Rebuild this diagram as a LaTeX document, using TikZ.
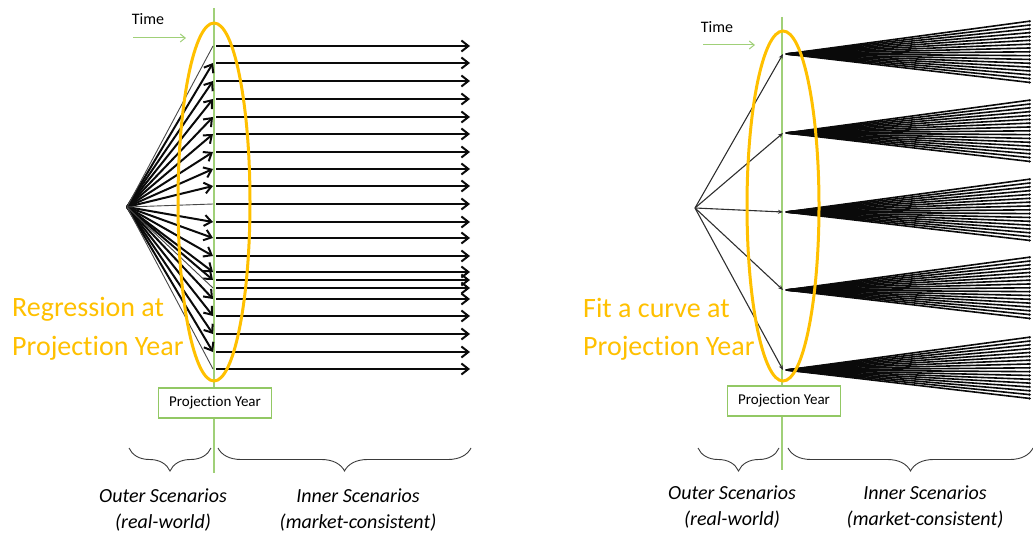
\documentclass[tikz,border=0pt]{standalone}
\usepackage{fontspec}
\setmainfont{Carlito}[Ligatures=NoCommon]
\usetikzlibrary{arrows.meta,decorations.pathreplacing}

\definecolor{axisgreen}{RGB}{160,208,120}
\definecolor{boxgreen}{RGB}{146,200,100}
\definecolor{gold}{RGB}{255,192,0}
\definecolor{ink}{RGB}{10,10,10}

\tikzset{
  greenline/.style={draw=axisgreen, line width=1.8pt},
  timearrow/.style={draw=axisgreen, line width=1pt, -{Straight Barb[length=5pt,width=8pt]}},
  timetxt/.style={font=\fontsize{16}{18}\selectfont, inner sep=0pt},
  harrow/.style={draw=ink, line width=2pt, -{Straight Barb[length=7pt,width=11pt,line width=2pt]}},
  fanhead/.style={draw=ink, line width=2pt, -{Straight Barb[length=7pt,width=11pt,line width=2pt]}},
  fanthin/.style={draw=ink!75, line width=0.9pt},
  outerline/.style={draw=ink!85, line width=1.1pt, -{Stealth[length=5pt,width=4pt]}},
  innerline/.style={draw=ink, line width=1.6pt, -{Stealth[length=2pt,width=3pt]}},
  oval/.style={draw=gold, line width=3pt},
  ybox/.style={draw=boxgreen, line width=1.8pt, fill=white, font=\fontsize{15}{17}\selectfont,
    minimum width=113pt, minimum height=30pt, inner sep=0pt},
  goldtxt/.style={text=gold, font=\fontsize{28}{34}\selectfont, inner sep=0pt, anchor=base west},
  bracedraw/.style={draw=ink!80, line width=0.9pt, decorate,
    decoration={brace, amplitude=23pt, aspect=0.5}},
  lbl/.style={font=\fontsize{20}{26}\selectfont\itshape, align=center, inner sep=0pt}
}

\begin{document}
\begin{tikzpicture}[x=1pt,y=-1pt]
\useasboundingbox (0,0) rectangle (1033,540);

% ---------------- left panel: regression ----------------
\coordinate (LT) at (214,8);
\coordinate (LB) at (214,473);
\draw[greenline] (LT) -- (LB);

\node[timetxt] (ltime) at (148,19) {Time};
\coordinate (lta) at (133,38);
\coordinate (ltb) at (186,38);
\draw[timearrow] (lta) -- (ltb);

\coordinate (LO) at (127,207);
\foreach \y [count=\i] in {46,63,81,99,117,134,152,169,186,204,222,238,256,272,280,288,299,316,334,352,369} {
  \coordinate (L\i) at (213,\y);
  \coordinate (S\i) at (216,\y);
  \coordinate (R\i) at (470,\y);
  \draw[harrow] (S\i) -- (R\i);
}
\foreach \i in {2,3,4,5,6,7,8,9,11,12,13,14,15,17,18,19,20}
  \draw[fanhead] (LO) -- (L\i);
\foreach \i in {1,10,16,21}
  \draw[fanthin] (LO) -- (L\i);

\draw[oval] (214,202) ellipse [x radius=36, y radius=179];

\node[ybox] (lpy) at (215,403) {Projection Year};

\node[goldtxt] (lg1) at (12,316) {Regression at};
\node[goldtxt] (lg2) at (12,355) {Projection Year};

\coordinate (lb1) at (211,448);
\coordinate (lb2) at (129,448);
\coordinate (lb3) at (471,448);
\coordinate (lb4) at (218,448);
\draw[bracedraw] (lb1) -- (lb2);
\draw[bracedraw] (lb3) -- (lb4);

\node[lbl] (louter) at (163,510) {Outer Scenarios\\(real-world)};
\node[lbl] (linner) at (358,510) {Inner Scenarios\\(market-consistent)};

% ---------------- right panel: curve fitting ----------------
\coordinate (RT) at (782,17);
\coordinate (RB) at (782,470);
\draw[greenline] (RT) -- (RB);

\node[timetxt] (rtime) at (717,27) {Time};
\coordinate (rta) at (703,45);
\coordinate (rtb) at (755,45);
\draw[timearrow] (rta) -- (rtb);

\coordinate (RO) at (695,208);
\foreach \c [count=\k] in {54,133,212,290,370} {
  \coordinate (E\k) at (783,\c);
  \coordinate (F\k) at (786,\c);
  \draw[outerline] (RO) -- (E\k);
  \foreach \j in {0,...,16} {
    \coordinate (G\k-\j) at (1031,{\c-33+3.85*\j});
    \draw[innerline] (F\k) -- (G\k-\j);
  }
}

\draw[oval] (783,206) ellipse [x radius=36, y radius=175];

\node[ybox] (rpy) at (784,401) {Projection Year};

\node[goldtxt] (rg1) at (583,317) {Fit a curve at};
\node[goldtxt] (rg2) at (583,355) {Projection Year};

\coordinate (rb1) at (779,448);
\coordinate (rb2) at (698,448);
\coordinate (rb3) at (1033,448);
\coordinate (rb4) at (788,448);
\draw[bracedraw] (rb1) -- (rb2);
\draw[bracedraw] (rb3) -- (rb4);

\node[lbl] (router) at (732,507) {Outer Scenarios\\(real-world)};
\node[lbl] (rinner) at (925,507) {Inner Scenarios\\(market-consistent)};
\end{tikzpicture}
\end{document}
